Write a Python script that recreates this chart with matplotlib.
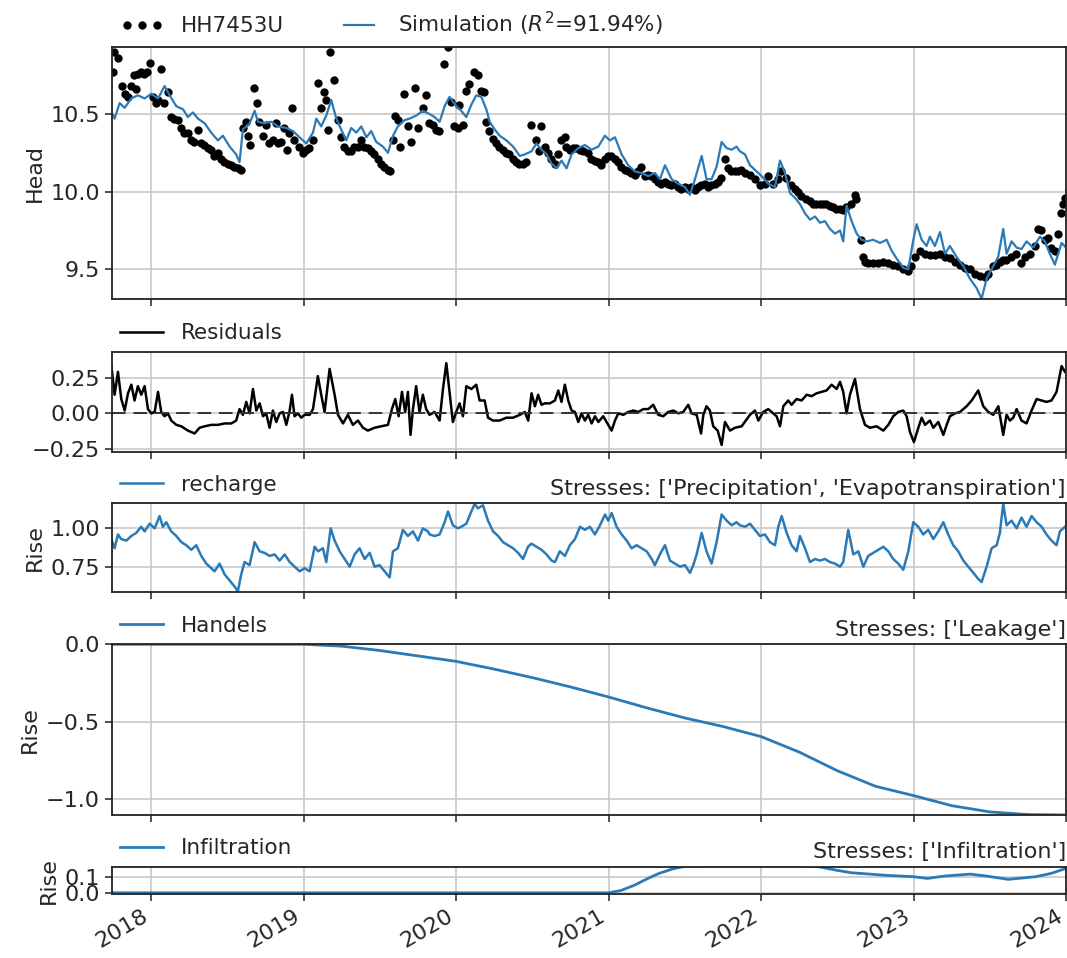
import numpy as np
import pandas as pd
import matplotlib
matplotlib.use("Agg")
import matplotlib.pyplot as plt
import matplotlib.dates as mdates

# ---------------- data (decimal year, value) ----------------
obs_points = [
    (2017.746, 10.77), (2017.757, 10.90), (2017.783, 10.86), (2017.805, 10.68), (2017.827, 10.63),
    (2017.849, 10.61), (2017.867, 10.68), (2017.884, 10.75), (2017.899, 10.66), (2017.915, 10.76),
    (2017.932, 10.77), (2017.950, 10.76), (2017.972, 10.77), (2017.989, 10.83), (2018.009, 10.61),
    (2018.031, 10.57), (2018.046, 10.59), (2018.063, 10.79), (2018.081, 10.57), (2018.107, 10.64),
    (2018.129, 10.48), (2018.151, 10.47), (2018.173, 10.46), (2018.195, 10.41), (2018.217, 10.38),
    (2018.238, 10.38), (2018.260, 10.33), (2018.282, 10.32), (2018.304, 10.40), (2018.326, 10.31),
    (2018.348, 10.30), (2018.370, 10.28), (2018.392, 10.27), (2018.413, 10.23), (2018.435, 10.25),
    (2018.457, 10.21), (2018.479, 10.19), (2018.501, 10.18), (2018.523, 10.17), (2018.545, 10.16),
    (2018.566, 10.15), (2018.588, 10.14), (2018.599, 10.41), (2018.621, 10.45), (2018.632, 10.36),
    (2018.650, 10.30), (2018.676, 10.67), (2018.693, 10.57), (2018.709, 10.45), (2018.731, 10.36),
    (2018.752, 10.43), (2018.774, 10.31), (2018.796, 10.33), (2018.818, 10.44), (2018.829, 10.31),
    (2018.851, 10.32), (2018.873, 10.41), (2018.890, 10.27), (2018.906, 10.38), (2018.921, 10.54),
    (2018.938, 10.33), (2018.971, 10.29), (2018.993, 10.25), (2019.015, 10.27), (2019.037, 10.28),
    (2019.059, 10.33), (2019.091, 10.70), (2019.113, 10.54), (2019.131, 10.64), (2019.146, 10.59),
    (2019.161, 10.40), (2019.175, 10.90), (2019.196, 10.72), (2019.223, 10.46), (2019.245, 10.35),
    (2019.266, 10.29), (2019.288, 10.26), (2019.310, 10.26), (2019.332, 10.29), (2019.354, 10.29),
    (2019.376, 10.33), (2019.398, 10.29), (2019.420, 10.28), (2019.441, 10.26), (2019.463, 10.24),
    (2019.485, 10.21), (2019.507, 10.18), (2019.529, 10.16), (2019.551, 10.14), (2019.568, 10.13),
    (2019.584, 10.33), (2019.599, 10.49), (2019.616, 10.46), (2019.634, 10.29), (2019.660, 10.63),
    (2019.686, 10.42), (2019.704, 10.32), (2019.730, 10.67), (2019.752, 10.41), (2019.780, 10.54),
    (2019.802, 10.62), (2019.824, 10.44), (2019.846, 10.43), (2019.868, 10.40), (2019.890, 10.39),
    (2019.923, 10.82), (2019.944, 10.93), (2019.966, 10.58), (2019.988, 10.42), (2020.010, 10.41),
    (2020.021, 10.56), (2020.043, 10.43), (2020.065, 10.65), (2020.087, 10.69), (2020.119, 10.77),
    (2020.141, 10.75), (2020.163, 10.65), (2020.185, 10.64), (2020.196, 10.45), (2020.218, 10.39),
    (2020.240, 10.34), (2020.262, 10.31), (2020.283, 10.29), (2020.305, 10.27), (2020.327, 10.25),
    (2020.349, 10.24), (2020.371, 10.21), (2020.393, 10.19), (2020.415, 10.18), (2020.437, 10.18),
    (2020.458, 10.19), (2020.491, 10.43), (2020.524, 10.33), (2020.546, 10.26), (2020.557, 10.42),
    (2020.579, 10.29), (2020.601, 10.25), (2020.623, 10.21), (2020.645, 10.18), (2020.666, 10.24),
    (2020.688, 10.33), (2020.710, 10.35), (2020.721, 10.29), (2020.743, 10.27), (2020.765, 10.28),
    (2020.787, 10.28), (2020.809, 10.27), (2020.830, 10.26), (2020.863, 10.25), (2020.885, 10.21),
    (2020.907, 10.20), (2020.929, 10.19), (2020.951, 10.17), (2020.972, 10.21), (2020.994, 10.23),
    (2021.016, 10.23), (2021.038, 10.21), (2021.060, 10.19), (2021.082, 10.16), (2021.104, 10.14),
    (2021.126, 10.13), (2021.147, 10.12), (2021.169, 10.11), (2021.191, 10.13), (2021.213, 10.16),
    (2021.235, 10.10), (2021.257, 10.11), (2021.279, 10.10), (2021.301, 10.08), (2021.322, 10.06),
    (2021.344, 10.05), (2021.366, 10.06), (2021.388, 10.05), (2021.410, 10.04), (2021.432, 10.05),
    (2021.454, 10.03), (2021.476, 10.02), (2021.497, 10.03), (2021.519, 10.02), (2021.541, 10.03),
    (2021.563, 10.01), (2021.585, 10.03), (2021.607, 10.04), (2021.629, 10.05), (2021.651, 10.03),
    (2021.672, 10.04), (2021.694, 10.05), (2021.716, 10.06), (2021.738, 10.09), (2021.760, 10.21),
    (2021.782, 10.15), (2021.804, 10.13), (2021.826, 10.13), (2021.848, 10.13), (2021.870, 10.14),
    (2021.891, 10.12), (2021.924, 10.11), (2021.957, 10.08), (2021.989, 10.04), (2022.022, 10.05),
    (2022.044, 10.10), (2022.077, 10.05), (2022.110, 10.08), (2022.131, 10.13), (2022.164, 10.09),
    (2022.197, 10.04), (2022.219, 10.02), (2022.241, 10.00), (2022.263, 9.97), (2022.296, 9.95),
    (2022.318, 9.94), (2022.340, 9.92), (2022.361, 9.92), (2022.383, 9.92), (2022.405, 9.92),
    (2022.427, 9.92), (2022.449, 9.91), (2022.471, 9.90), (2022.493, 9.89), (2022.515, 9.89),
    (2022.537, 9.88), (2022.559, 9.90), (2022.591, 9.92), (2022.613, 9.98), (2022.624, 9.95),
    (2022.657, 9.69), (2022.668, 9.58), (2022.679, 9.55), (2022.701, 9.54), (2022.733, 9.54),
    (2022.766, 9.54), (2022.799, 9.55), (2022.831, 9.54), (2022.864, 9.53), (2022.897, 9.52),
    (2022.930, 9.50), (2022.963, 9.49), (2022.985, 9.52), (2023.007, 9.58), (2023.040, 9.62),
    (2023.072, 9.60), (2023.105, 9.59), (2023.138, 9.59), (2023.171, 9.60), (2023.204, 9.58),
    (2023.236, 9.57), (2023.269, 9.55), (2023.302, 9.53), (2023.335, 9.51), (2023.368, 9.50),
    (2023.400, 9.47), (2023.433, 9.46), (2023.466, 9.45), (2023.488, 9.47), (2023.521, 9.52),
    (2023.543, 9.53), (2023.564, 9.55), (2023.586, 9.56), (2023.608, 9.56), (2023.641, 9.58),
    (2023.674, 9.60), (2023.707, 9.54), (2023.729, 9.58), (2023.761, 9.60), (2023.794, 9.65),
    (2023.816, 9.76), (2023.838, 9.75), (2023.860, 9.69), (2023.882, 9.70), (2023.904, 9.64),
    (2023.925, 9.62), (2023.947, 9.73), (2023.969, 9.86), (2023.980, 9.92), (2023.991, 9.96),
]

sim_points = [
    (2017.737, 10.515), (2017.759, 10.47), (2017.792, 10.57), (2017.825, 10.54), (2017.869, 10.60),
    (2017.912, 10.62), (2017.956, 10.60), (2018.000, 10.63), (2018.044, 10.60), (2018.087, 10.68),
    (2018.120, 10.62), (2018.164, 10.55), (2018.208, 10.53), (2018.240, 10.48), (2018.273, 10.51),
    (2018.306, 10.47), (2018.350, 10.44), (2018.393, 10.38), (2018.437, 10.33), (2018.470, 10.36),
    (2018.514, 10.29), (2018.557, 10.24), (2018.579, 10.19), (2018.601, 10.40), (2018.645, 10.44),
    (2018.678, 10.52), (2018.700, 10.45), (2018.744, 10.44), (2018.787, 10.45), (2018.831, 10.42),
    (2018.886, 10.41), (2018.929, 10.39), (2018.973, 10.35), (2019.017, 10.31), (2019.061, 10.38),
    (2019.083, 10.47), (2019.115, 10.42), (2019.148, 10.49), (2019.181, 10.59), (2019.214, 10.47),
    (2019.246, 10.40), (2019.279, 10.33), (2019.312, 10.41), (2019.345, 10.38), (2019.378, 10.42),
    (2019.411, 10.35), (2019.443, 10.39), (2019.476, 10.32), (2019.520, 10.29), (2019.553, 10.25),
    (2019.586, 10.36), (2019.618, 10.42), (2019.662, 10.46), (2019.695, 10.47), (2019.739, 10.49),
    (2019.782, 10.52), (2019.826, 10.50), (2019.859, 10.48), (2019.892, 10.45), (2019.925, 10.55),
    (2019.957, 10.61), (2020.001, 10.55), (2020.034, 10.52), (2020.067, 10.48), (2020.100, 10.56),
    (2020.132, 10.62), (2020.165, 10.61), (2020.198, 10.53), (2020.220, 10.45), (2020.253, 10.40),
    (2020.285, 10.36), (2020.329, 10.33), (2020.373, 10.29), (2020.417, 10.23), (2020.450, 10.24),
    (2020.494, 10.26), (2020.526, 10.31), (2020.559, 10.27), (2020.592, 10.24), (2020.625, 10.18),
    (2020.658, 10.15), (2020.690, 10.20), (2020.723, 10.15), (2020.756, 10.24), (2020.800, 10.28),
    (2020.843, 10.30), (2020.887, 10.27), (2020.931, 10.29), (2020.974, 10.36), (2021.007, 10.33),
    (2021.040, 10.35), (2021.084, 10.24), (2021.127, 10.17), (2021.171, 10.13), (2021.215, 10.12),
    (2021.259, 10.10), (2021.302, 10.12), (2021.335, 10.08), (2021.368, 10.17), (2021.412, 10.08),
    (2021.456, 10.05), (2021.499, 10.03), (2021.532, 9.98), (2021.565, 10.08), (2021.609, 10.23),
    (2021.641, 10.08), (2021.674, 10.08), (2021.707, 10.16), (2021.740, 10.32), (2021.773, 10.28),
    (2021.806, 10.27), (2021.838, 10.29), (2021.860, 10.26), (2021.893, 10.24), (2021.926, 10.17),
    (2021.970, 10.13), (2022.003, 10.10), (2022.046, 10.05), (2022.090, 10.03), (2022.123, 10.20),
    (2022.156, 10.12), (2022.189, 9.99), (2022.222, 9.96), (2022.254, 9.92), (2022.287, 9.86),
    (2022.320, 9.82), (2022.353, 9.84), (2022.385, 9.80), (2022.418, 9.81), (2022.451, 9.76),
    (2022.484, 9.73), (2022.517, 9.75), (2022.538, 9.68), (2022.560, 9.91), (2022.593, 9.81),
    (2022.626, 9.73), (2022.659, 9.69), (2022.692, 9.68), (2022.735, 9.69), (2022.779, 9.67),
    (2022.823, 9.69), (2022.856, 9.62), (2022.888, 9.57), (2022.932, 9.51), (2022.965, 9.50),
    (2022.998, 9.69), (2023.020, 9.79), (2023.053, 9.69), (2023.085, 9.65), (2023.107, 9.71),
    (2023.140, 9.65), (2023.173, 9.74), (2023.206, 9.60), (2023.238, 9.65), (2023.282, 9.58),
    (2023.326, 9.52), (2023.369, 9.44), (2023.413, 9.38), (2023.446, 9.31), (2023.479, 9.44),
    (2023.522, 9.52), (2023.555, 9.58), (2023.588, 9.76), (2023.610, 9.60), (2023.643, 9.68),
    (2023.676, 9.64), (2023.708, 9.63), (2023.741, 9.68), (2023.785, 9.64), (2023.829, 9.71),
    (2023.861, 9.68), (2023.894, 9.60), (2023.927, 9.53), (2023.949, 9.60), (2023.971, 9.67),
    (2024.000, 9.64),
]

residual_points = [
    (2017.737, 0.34), (2017.759, 0.13), (2017.781, 0.29), (2017.803, 0.10), (2017.825, 0.02),
    (2017.847, 0.14), (2017.869, 0.20), (2017.890, 0.09), (2017.912, 0.19), (2017.934, 0.13),
    (2017.956, 0.19), (2017.978, 0.03), (2018.000, 0.00), (2018.022, 0.01), (2018.044, 0.15),
    (2018.065, 0.01), (2018.087, -0.02), (2018.109, 0.00), (2018.131, -0.05), (2018.164, -0.08),
    (2018.197, -0.09), (2018.240, -0.12), (2018.284, -0.14), (2018.317, -0.10), (2018.350, -0.09),
    (2018.393, -0.08), (2018.437, -0.08), (2018.481, -0.07), (2018.525, -0.07), (2018.557, -0.05),
    (2018.579, 0.03), (2018.601, -0.01), (2018.623, 0.08), (2018.645, 0.00), (2018.667, 0.17),
    (2018.689, 0.02), (2018.711, 0.07), (2018.733, -0.02), (2018.754, 0.00), (2018.776, -0.10),
    (2018.798, 0.02), (2018.820, -0.06), (2018.842, 0.00), (2018.864, 0.01), (2018.886, -0.08),
    (2018.908, 0.02), (2018.923, 0.13), (2018.940, -0.02), (2018.962, 0.00), (2018.984, -0.03),
    (2019.006, -0.01), (2019.039, -0.01), (2019.061, 0.03), (2019.093, 0.26), (2019.115, 0.13),
    (2019.137, 0.01), (2019.170, 0.31), (2019.203, 0.13), (2019.225, -0.01), (2019.258, -0.07),
    (2019.290, -0.01), (2019.323, -0.08), (2019.356, -0.05), (2019.389, -0.10), (2019.421, -0.12),
    (2019.465, -0.10), (2019.509, -0.09), (2019.553, -0.08), (2019.579, 0.03), (2019.601, 0.10),
    (2019.623, -0.02), (2019.645, 0.15), (2019.666, 0.01), (2019.684, 0.15), (2019.701, -0.15),
    (2019.717, 0.03), (2019.738, 0.19), (2019.760, 0.01), (2019.782, 0.13), (2019.804, 0.03),
    (2019.826, -0.01), (2019.859, 0.01), (2019.892, -0.05), (2019.914, 0.17), (2019.936, 0.35),
    (2019.957, 0.15), (2019.979, -0.06), (2020.001, 0.01), (2020.023, 0.07), (2020.045, -0.02),
    (2020.067, 0.19), (2020.100, 0.17), (2020.132, 0.20), (2020.154, 0.09), (2020.187, 0.09),
    (2020.209, -0.03), (2020.242, -0.05), (2020.285, -0.05), (2020.329, -0.03), (2020.373, -0.03),
    (2020.417, -0.01), (2020.450, 0.01), (2020.472, -0.05), (2020.494, 0.14), (2020.516, 0.05),
    (2020.537, 0.13), (2020.559, 0.06), (2020.581, 0.07), (2020.614, 0.07), (2020.647, 0.09),
    (2020.669, 0.16), (2020.690, 0.08), (2020.712, 0.20), (2020.734, 0.09), (2020.756, 0.02),
    (2020.778, 0.01), (2020.800, -0.06), (2020.821, 0.00), (2020.843, -0.05), (2020.865, -0.01),
    (2020.887, -0.07), (2020.909, -0.02), (2020.931, -0.06), (2020.963, -0.02), (2020.996, -0.08),
    (2021.018, -0.12), (2021.040, -0.05), (2021.062, 0.00), (2021.095, -0.01), (2021.127, 0.01),
    (2021.160, 0.02), (2021.193, 0.01), (2021.226, 0.03), (2021.259, 0.03), (2021.291, 0.06),
    (2021.324, -0.01), (2021.357, -0.02), (2021.390, 0.01), (2021.423, 0.02), (2021.456, 0.00),
    (2021.488, 0.01), (2021.521, 0.06), (2021.543, 0.00), (2021.576, -0.01), (2021.605, -0.14),
    (2021.620, -0.01), (2021.641, 0.05), (2021.663, 0.02), (2021.685, -0.09), (2021.714, -0.12),
    (2021.740, -0.22), (2021.762, -0.06), (2021.795, -0.12), (2021.828, -0.10), (2021.871, -0.09),
    (2021.926, -0.01), (2021.959, 0.02), (2021.981, -0.05), (2022.013, 0.01), (2022.046, 0.03),
    (2022.079, 0.00), (2022.101, -0.02), (2022.123, -0.09), (2022.145, 0.05), (2022.177, 0.09),
    (2022.199, 0.06), (2022.232, 0.10), (2022.265, 0.09), (2022.298, 0.13), (2022.331, 0.12),
    (2022.363, 0.14), (2022.396, 0.15), (2022.429, 0.16), (2022.462, 0.20), (2022.495, 0.17),
    (2022.517, 0.22), (2022.538, 0.15), (2022.560, 0.00), (2022.582, 0.13), (2022.615, 0.24),
    (2022.648, 0.03), (2022.681, -0.08), (2022.713, -0.10), (2022.757, -0.09), (2022.801, -0.12),
    (2022.834, -0.08), (2022.866, -0.02), (2022.899, 0.01), (2022.932, 0.02), (2022.954, -0.02),
    (2022.976, -0.13), (2023.002, -0.20), (2023.031, -0.10), (2023.053, -0.03), (2023.075, -0.08),
    (2023.107, -0.05), (2023.129, -0.10), (2023.162, -0.06), (2023.195, -0.15), (2023.217, -0.08),
    (2023.238, -0.02), (2023.271, 0.00), (2023.304, 0.01), (2023.348, 0.05), (2023.381, 0.09),
    (2023.424, 0.16), (2023.457, 0.05), (2023.490, 0.01), (2023.523, -0.01), (2023.556, 0.05),
    (2023.588, -0.15), (2023.610, -0.01), (2023.632, -0.05), (2023.654, -0.03), (2023.676, 0.03),
    (2023.708, -0.05), (2023.741, -0.07), (2023.774, 0.02), (2023.807, 0.10), (2023.840, 0.09),
    (2023.872, 0.08), (2023.905, 0.09), (2023.938, 0.15), (2023.971, 0.33), (2023.993, 0.29),
]

recharge_points = [
    (2017.737, 0.93), (2017.759, 0.87), (2017.781, 0.96), (2017.803, 0.93), (2017.836, 0.92),
    (2017.869, 0.95), (2017.901, 0.97), (2017.934, 1.01), (2017.956, 0.98), (2017.989, 1.03),
    (2018.022, 1.00), (2018.054, 1.08), (2018.076, 1.01), (2018.098, 1.04), (2018.131, 0.98),
    (2018.164, 0.95), (2018.197, 0.91), (2018.229, 0.89), (2018.262, 0.86), (2018.295, 0.89),
    (2018.328, 0.82), (2018.361, 0.77), (2018.394, 0.74), (2018.415, 0.72), (2018.448, 0.77),
    (2018.481, 0.70), (2018.514, 0.66), (2018.547, 0.62), (2018.568, 0.59), (2018.590, 0.70),
    (2018.612, 0.78), (2018.645, 0.76), (2018.678, 0.91), (2018.711, 0.85), (2018.743, 0.84),
    (2018.776, 0.82), (2018.809, 0.83), (2018.842, 0.79), (2018.875, 0.83), (2018.908, 0.78),
    (2018.940, 0.75), (2018.973, 0.72), (2019.006, 0.74), (2019.039, 0.72), (2019.072, 0.88),
    (2019.094, 0.85), (2019.126, 0.87), (2019.148, 0.78), (2019.177, 1.00), (2019.203, 0.92),
    (2019.236, 0.85), (2019.269, 0.80), (2019.302, 0.75), (2019.334, 0.83), (2019.367, 0.87),
    (2019.400, 0.80), (2019.433, 0.84), (2019.465, 0.75), (2019.498, 0.76), (2019.531, 0.72),
    (2019.564, 0.68), (2019.586, 0.85), (2019.618, 0.87), (2019.651, 0.99), (2019.684, 0.95),
    (2019.717, 0.98), (2019.750, 0.92), (2019.782, 1.00), (2019.815, 0.98), (2019.826, 0.96),
    (2019.859, 0.95), (2019.892, 0.96), (2019.925, 1.04), (2019.947, 1.11), (2019.979, 1.02),
    (2020.012, 1.00), (2020.034, 1.01), (2020.067, 1.03), (2020.100, 1.11), (2020.122, 1.16),
    (2020.143, 1.13), (2020.176, 1.15), (2020.209, 1.05), (2020.242, 0.98), (2020.275, 0.95),
    (2020.307, 0.91), (2020.340, 0.89), (2020.373, 0.87), (2020.406, 0.84), (2020.438, 0.80),
    (2020.471, 0.88), (2020.493, 0.90), (2020.526, 0.88), (2020.559, 0.86), (2020.592, 0.83),
    (2020.625, 0.79), (2020.647, 0.78), (2020.679, 0.85), (2020.712, 0.82), (2020.745, 0.89),
    (2020.778, 0.93), (2020.811, 1.01), (2020.843, 0.99), (2020.876, 1.01), (2020.909, 0.96),
    (2020.942, 1.02), (2020.975, 1.09), (2020.996, 1.05), (2021.018, 1.10), (2021.051, 1.01),
    (2021.084, 0.96), (2021.117, 0.92), (2021.149, 0.87), (2021.182, 0.89), (2021.215, 0.87),
    (2021.248, 0.85), (2021.281, 0.80), (2021.302, 0.76), (2021.335, 0.83), (2021.368, 0.89),
    (2021.401, 0.79), (2021.434, 0.77), (2021.467, 0.75), (2021.499, 0.76), (2021.532, 0.71),
    (2021.554, 0.76), (2021.576, 0.83), (2021.609, 0.97), (2021.641, 0.85), (2021.674, 0.77),
    (2021.707, 0.91), (2021.740, 1.09), (2021.773, 1.05), (2021.806, 1.02), (2021.838, 1.04),
    (2021.860, 1.02), (2021.893, 1.01), (2021.926, 1.03), (2021.959, 0.99), (2021.991, 0.95),
    (2022.024, 0.96), (2022.057, 0.91), (2022.090, 0.89), (2022.112, 1.01), (2022.134, 1.08),
    (2022.167, 0.97), (2022.199, 0.89), (2022.232, 0.85), (2022.254, 0.95), (2022.287, 0.87),
    (2022.320, 0.78), (2022.353, 0.80), (2022.385, 0.79), (2022.418, 0.80), (2022.451, 0.78),
    (2022.484, 0.77), (2022.517, 0.75), (2022.538, 0.78), (2022.571, 0.99), (2022.604, 0.83),
    (2022.637, 0.85), (2022.670, 0.75), (2022.702, 0.82), (2022.735, 0.84), (2022.768, 0.86),
    (2022.801, 0.88), (2022.834, 0.85), (2022.866, 0.80), (2022.899, 0.77), (2022.932, 0.73),
    (2022.965, 0.85), (2022.998, 1.04), (2023.031, 1.01), (2023.063, 0.96), (2023.096, 0.99),
    (2023.129, 0.93), (2023.162, 0.98), (2023.195, 1.04), (2023.227, 0.96), (2023.260, 0.89),
    (2023.293, 0.85), (2023.326, 0.79), (2023.359, 0.75), (2023.392, 0.71), (2023.424, 0.67),
    (2023.446, 0.65), (2023.479, 0.75), (2023.512, 0.87), (2023.545, 0.89), (2023.566, 0.97),
    (2023.588, 1.16), (2023.610, 1.02), (2023.643, 1.05), (2023.676, 1.00), (2023.708, 1.07),
    (2023.741, 1.01), (2023.774, 1.08), (2023.807, 1.04), (2023.840, 1.01), (2023.872, 0.96),
    (2023.905, 0.92), (2023.938, 0.89), (2023.960, 0.98), (2023.993, 1.01),
]

handels_points = [
    (2017.74, 0.0), (2018.5, 0.0), (2019.0, 0.0), (2019.25, -0.012), (2019.5, -0.04),
    (2019.75, -0.075), (2020.0, -0.11), (2020.25, -0.16), (2020.5, -0.215), (2020.75, -0.275),
    (2021.0, -0.34), (2021.25, -0.41), (2021.5, -0.475), (2021.75, -0.53), (2022.0, -0.595),
    (2022.25, -0.695), (2022.5, -0.815), (2022.75, -0.915), (2023.0, -0.975), (2023.25, -1.04),
    (2023.5, -1.08), (2023.75, -1.097), (2024.0, -1.10),
]

infiltration_points = [
    (2017.74, 0.0), (2019.0, 0.0), (2020.0, 0.0), (2021.0, 0.0), (2021.08, 0.015),
    (2021.17, 0.05), (2021.25, 0.09), (2021.33, 0.126), (2021.42, 0.155), (2021.5, 0.172),
    (2021.75, 0.18), (2022.0, 0.18), (2022.25, 0.177), (2022.38, 0.168), (2022.5, 0.145),
    (2022.59, 0.13), (2022.82, 0.113), (2023.0, 0.104), (2023.09, 0.093), (2023.2, 0.108),
    (2023.37, 0.121), (2023.48, 0.108), (2023.62, 0.087), (2023.8, 0.104), (2023.9, 0.125),
    (2024.0, 0.158),
]

obs_name = "HH7453U"
sim_label = "Simulation ($R^2$=91.94%)"
recharge_title = "Stresses: ['Precipitation', 'Evapotranspiration']"
handels_title = "Stresses: ['Leakage']"
infil_title = "Stresses: ['Infiltration']"


def to_dt(years):
    out = []
    for v in years:
        y = int(np.floor(v))
        start = pd.Timestamp(year=y, month=1, day=1)
        ndays = (pd.Timestamp(year=y + 1, month=1, day=1) - start).days
        out.append(start + pd.Timedelta(days=(v - y) * ndays))
    return pd.DatetimeIndex(out)


def split(points):
    t, v = zip(*points)
    return to_dt(t), np.array(v)


# ---------------- figure ----------------
FS = 16
LFS = 15.5
TXT = "#262626"
plt.rcParams.update({
    "font.family": ["DejaVu Sans"],
    "font.size": FS,
    "text.color": TXT,
    "axes.labelcolor": TXT,
    "xtick.color": "#333333",
    "ytick.color": "#333333",
    "xtick.labelcolor": TXT,
    "ytick.labelcolor": TXT,
})

W, H = 1067, 958
fig = plt.figure(figsize=(W / 100, H / 100), dpi=100)

left, right = 111.7, 1066.0


def add_ax(top, bottom, sharex=None):
    return fig.add_axes([left / W, 1 - bottom / H, (right - left) / W, (bottom - top) / H],
                        sharex=sharex)


ax1 = add_ax(46.7, 299.3)
ax2 = add_ax(351.7, 451.7, sharex=ax1)
ax3 = add_ax(503.3, 591.7, sharex=ax1)
ax4 = add_ax(644.3, 815.0, sharex=ax1)
ax5 = add_ax(866.7, 894.0, sharex=ax1)
axes = [ax1, ax2, ax3, ax4, ax5]

blue = "#2a7ab8"

t_o, v_o = split(obs_points)
t_s, v_s = split(sim_points)
t_r, v_r = split(residual_points)
t_rc, v_rc = split(recharge_points)
t_h, v_h = split(handels_points)
t_i, v_i = split(infiltration_points)

ax1.plot(t_o, v_o, linestyle="none", marker="o", ms=6, mew=0, color="k", label=obs_name)
ax1.plot(t_s, v_s, color=blue, lw=1.6, label=sim_label)
ax1.set_ylim(9.307, 10.933)
ax1.set_yticks([9.5, 10.0, 10.5])
ax1.set_ylabel("Head")
ax1.legend(loc=(0, 1), ncol=3, frameon=False, numpoints=3, fontsize=LFS,
           handlelength=2.0, columnspacing=2.5)

ax2.plot(t_r, v_r, color="k", lw=1.8, label="Residuals")
ax2.axhline(0.0, color="#333333", lw=1.4, ls=(0, (7, 4)))
ax2.set_ylim(-0.267, 0.43)
ax2.set_yticks([-0.25, 0.0, 0.25])
ax2.legend(loc=(0, 1), frameon=False, fontsize=LFS)

ax3.plot(t_rc, v_rc, color=blue, lw=1.8, label="recharge")
ax3.set_ylim(0.587, 1.163)
ax3.set_yticks([0.75, 1.00])
ax3.set_ylabel("Rise")
ax3.legend(loc=(0, 1), frameon=False, fontsize=LFS)
ax3.set_title(recharge_title, loc="right", fontsize=FS, pad=6)

ax4.plot(t_h, v_h, color=blue, lw=2.0, label="Handels")
ax4.set_ylim(-1.10, 0.0)
ax4.set_yticks([-1.0, -0.5, 0.0])
ax4.set_ylabel("Rise")
ax4.legend(loc=(0, 1), frameon=False, fontsize=LFS)
ax4.set_title(handels_title, loc="right", fontsize=FS, pad=6)

ax5.plot(t_i, v_i, color=blue, lw=2.0, label="Infiltration")
ax5.set_ylim(-0.008, 0.169)
ax5.set_yticks([0.0, 0.1])
ax5.set_ylabel("Rise")
ax5.legend(loc=(0, 1), frameon=False, fontsize=LFS)
ax5.set_title(infil_title, loc="right", fontsize=FS, pad=6)

xmin = to_dt([2017.74])[0]
xmax = pd.Timestamp(year=2024, month=1, day=1)
for ax in axes:
    ax.set_xlim(xmin, xmax)
    ax.grid(True, color="#c8c8c8", lw=1.2)
    ax.tick_params(labelsize=FS, length=5, width=1.2)
    for sp in ax.spines.values():
        sp.set_linewidth(1.3)
        sp.set_color("#222222")
    ax.xaxis.set_major_locator(mdates.YearLocator())
    ax.xaxis.set_major_formatter(mdates.DateFormatter("%Y"))
    if ax is not ax5:
        plt.setp(ax.get_xticklabels(), visible=False)

for lbl in ax5.get_xticklabels():
    lbl.set_rotation(30)
    lbl.set_ha("right")

fig.savefig("out.png", dpi=100)
